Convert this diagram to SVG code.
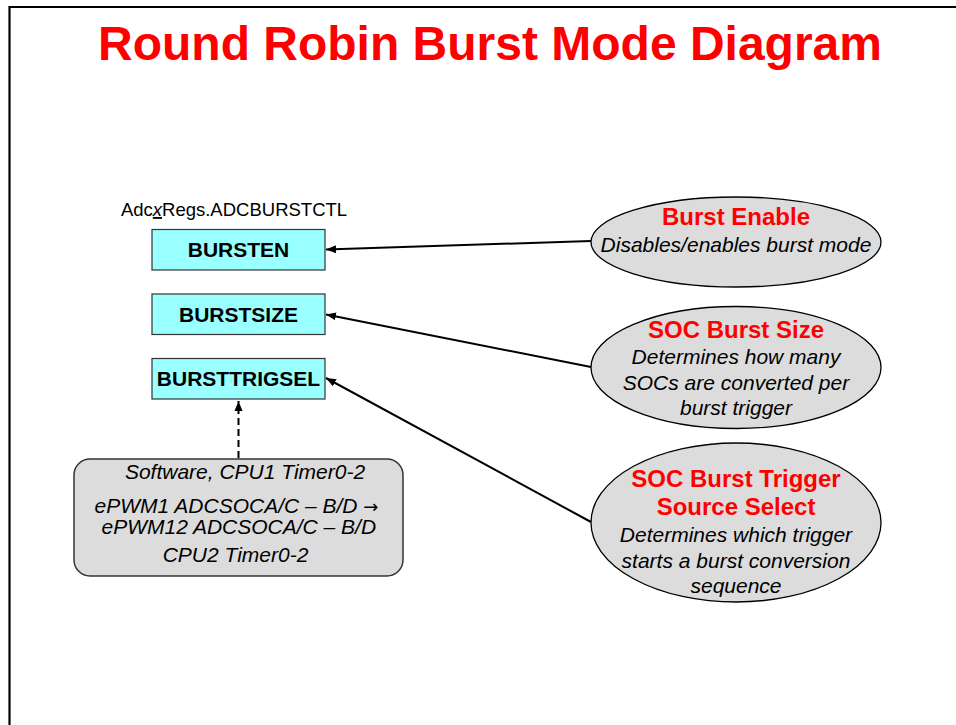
<svg xmlns="http://www.w3.org/2000/svg" width="956" height="725" viewBox="0 0 956 725">
<style>
.t{font-family:"Liberation Sans",Arial,sans-serif;}
.title{font-size:48px;font-weight:bold;fill:#ff0000;}
.reg{font-size:21px;font-weight:bold;fill:#000;}
.box{fill:#99ffff;stroke:#333;stroke-width:1.2;}
.ell{fill:#dcdcdc;stroke:#000;stroke-width:1.3;}
.eh{font-size:24px;font-weight:bold;fill:#ff0000;}
.ed{font-size:21px;font-style:italic;fill:#000;}
.conn{stroke:#000;stroke-width:2;fill:none;}
</style>
<defs>
<marker id="ah" markerUnits="userSpaceOnUse" markerWidth="12" markerHeight="10" refX="10" refY="5" orient="auto">
<path d="M0,1 L10,5 L0,9 Z" fill="#000"/>
</marker>
</defs>
<rect width="956" height="725" fill="#fff"/>
<path d="M9.5,725 V7 H956" fill="none" stroke="#000" stroke-width="2.2"/>
<text class="t title" x="490" y="60" text-anchor="middle">Round Robin Burst Mode Diagram</text>

<g id="regname">
<text class="t" x="234" y="216" font-size="18.5" text-anchor="middle" fill="#000">Adc<tspan font-style="italic" text-decoration="underline">x</tspan>Regs.ADCBURSTCTL</text>
</g>
<g id="bursten">
<rect class="box" x="152" y="229.5" width="173" height="40.5"/>
<text class="t reg" x="238.5" y="257" text-anchor="middle">BURSTEN</text>
</g>
<g id="burstsize">
<rect class="box" x="152" y="294" width="173" height="40.5"/>
<text class="t reg" x="238.5" y="322" text-anchor="middle">BURSTSIZE</text>
</g>
<g id="bursttrigsel">
<rect class="box" x="152" y="358.5" width="173" height="40.5"/>
<text class="t reg" x="238.5" y="385.5" text-anchor="middle">BURSTTRIGSEL</text>
</g>
<g id="sources">
<rect x="74" y="459" width="329" height="117" rx="16" ry="16" fill="#dcdcdc" stroke="#333" stroke-width="1.5"/>
<text class="t ed" x="245" y="479" text-anchor="middle">Software, CPU1 Timer0-2</text>
<text class="t ed" x="236.5" y="512.5" font-size="20.5" text-anchor="middle">ePWM1 ADCSOCA/C – B/D <tspan font-family="'DejaVu Sans',sans-serif" font-style="normal" font-size="18">→</tspan></text>
<text class="t ed" x="238.8" y="533.5" font-size="20.5" text-anchor="middle">ePWM12 ADCSOCA/C – B/D</text>
<text class="t ed" x="235.5" y="562" text-anchor="middle">CPU2 Timer0-2</text>
</g>
<g id="burstenable">
<ellipse class="ell" cx="736" cy="242" rx="145" ry="45"/>
<text class="t eh" x="736" y="225" text-anchor="middle">Burst Enable</text>
<text class="t ed" x="736" y="252" text-anchor="middle">Disables/enables burst mode</text>
</g>
<g id="socburstsize">
<ellipse class="ell" cx="736" cy="367.5" rx="145" ry="61"/>
<text class="t eh" x="736" y="338" text-anchor="middle">SOC Burst Size</text>
<text class="t ed" x="736" y="364" text-anchor="middle">Determines how many</text>
<text class="t ed" x="736" y="389.5" text-anchor="middle">SOCs are converted per</text>
<text class="t ed" x="736" y="415" text-anchor="middle">burst trigger</text>
</g>
<g id="socbursttrig">
<ellipse class="ell" cx="736" cy="522.5" rx="145" ry="79.5"/>
<text class="t eh" x="736" y="487" text-anchor="middle">SOC Burst Trigger</text>
<text class="t eh" x="736" y="515" text-anchor="middle">Source Select</text>
<text class="t ed" x="736" y="542" text-anchor="middle">Determines which trigger</text>
<text class="t ed" x="736" y="567.5" text-anchor="middle">starts a burst conversion</text>
<text class="t ed" x="736" y="593" text-anchor="middle">sequence</text>
</g>
<g id="connectors">
<line class="conn" x1="591" y1="241" x2="326" y2="249.5" marker-end="url(#ah)"/>
<line class="conn" x1="591" y1="367" x2="326" y2="314.5" marker-end="url(#ah)"/>
<line class="conn" x1="591" y1="522" x2="326" y2="378" marker-end="url(#ah)"/>
<line class="conn" x1="238.5" y1="458" x2="238.5" y2="401" stroke-width="2.5" stroke-dasharray="7,4" marker-end="url(#ah)"/>
</g>
</svg>
